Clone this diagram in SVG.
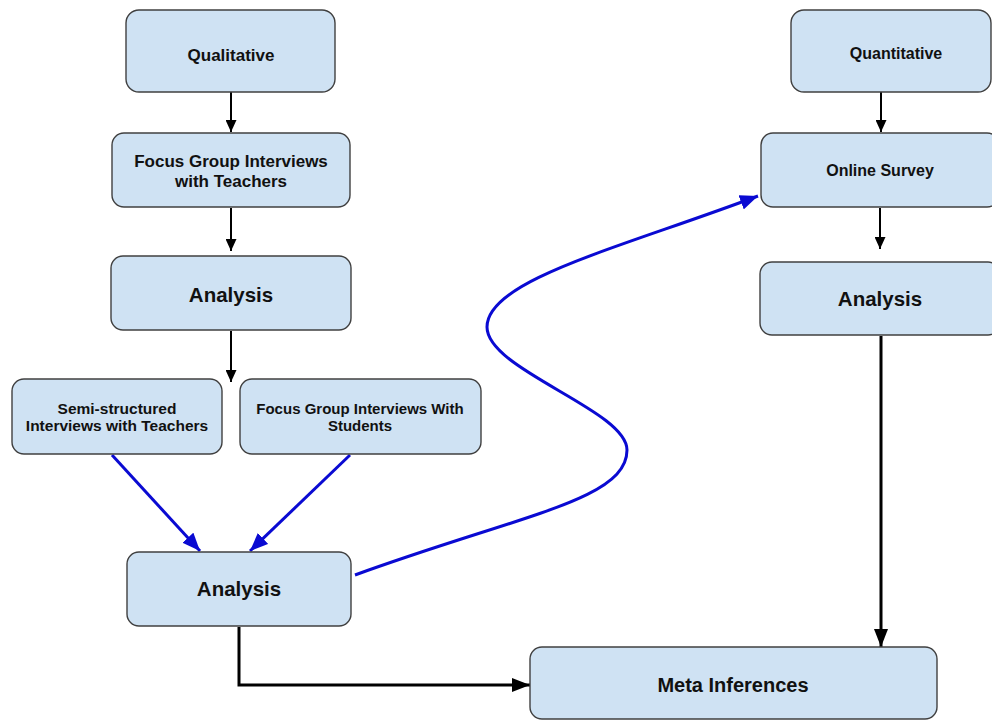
<svg xmlns="http://www.w3.org/2000/svg" width="992" height="721" viewBox="0 0 992 721">
  <style>
    .box { fill: #cfe2f3; stroke: #404040; stroke-width: 1.4; }
    .lbl { font-family: "Liberation Sans", Arial, sans-serif; font-weight: bold; fill: #111; text-anchor: middle; }
    .blk { fill: none; stroke: #000; stroke-width: 2; }
    .blk3 { fill: none; stroke: #000; stroke-width: 3; }
    .blu { fill: none; stroke: #0a0ad2; stroke-width: 3; }
  </style>
  <defs>
    <marker id="ahSmall" markerUnits="userSpaceOnUse" markerWidth="12" markerHeight="11" refX="12" refY="5.5" orient="auto">
      <path d="M0,0 L12,5.5 L0,11 z" fill="#000"/>
    </marker>
    <marker id="ahBig" markerUnits="userSpaceOnUse" markerWidth="18" markerHeight="14" refX="18" refY="7" orient="auto">
      <path d="M0,0 L18,7 L0,14 z" fill="#000"/>
    </marker>
    <marker id="ahBlue" markerUnits="userSpaceOnUse" markerWidth="18" markerHeight="15" refX="18" refY="7.5" orient="auto">
      <path d="M0,0 L18,7.5 L0,15 z" fill="#0a0ad2"/>
    </marker>
  </defs>
  <rect width="992" height="721" fill="#fff"/>

  <!-- connectors -->
  <g id="connectors">
    <line class="blk" x1="231" y1="92" x2="231" y2="132" marker-end="url(#ahSmall)"/>
    <line class="blk" x1="231" y1="208" x2="231" y2="251" marker-end="url(#ahSmall)"/>
    <line class="blk" x1="231" y1="331" x2="231" y2="382" marker-end="url(#ahSmall)"/>
    <line class="blk" x1="881" y1="92" x2="881" y2="132" marker-end="url(#ahSmall)"/>
    <line class="blk" x1="880" y1="208" x2="880" y2="249" marker-end="url(#ahSmall)"/>
    <line class="blk3" x1="881" y1="336" x2="881" y2="647" marker-end="url(#ahBig)"/>
    <polyline class="blk3" points="239,627 239,685 530,685" marker-end="url(#ahBig)"/>
    <line class="blu" x1="112" y1="455" x2="200" y2="551" marker-end="url(#ahBlue)"/>
    <line class="blu" x1="350" y1="455" x2="250" y2="551" marker-end="url(#ahBlue)"/>
    <path class="blu" d="M355,575 C520,515 627,500 627,450 C627,410 487,370 487,327 C487,280 620,248 758,196" marker-end="url(#ahBlue)"/>
  </g>

  <!-- qualitative strand -->
  <g id="qualitative">
    <rect class="box" x="126" y="10" width="209" height="82" rx="13"/>
    <text class="lbl" x="231" y="61" font-size="17">Qualitative</text>
  </g>
  <g id="fg-teachers">
    <rect class="box" x="112" y="133" width="238" height="74" rx="12"/>
    <text class="lbl" x="231" y="167" font-size="17">Focus Group Interviews</text>
    <text class="lbl" x="231" y="187" font-size="17">with Teachers</text>
  </g>
  <g id="analysis-1">
    <rect class="box" x="111" y="256" width="240" height="74" rx="12"/>
    <text class="lbl" x="231" y="302" font-size="20.5">Analysis</text>
  </g>
  <g id="semi-structured">
    <rect class="box" x="12" y="379" width="210" height="75" rx="12"/>
    <text class="lbl" x="117" y="414" font-size="15.5">Semi-structured</text>
    <text class="lbl" x="117" y="431" font-size="15.5">Interviews with Teachers</text>
  </g>
  <g id="fg-students">
    <rect class="box" x="240" y="379" width="241" height="75" rx="12"/>
    <text class="lbl" x="360" y="414" font-size="15">Focus Group Interviews With</text>
    <text class="lbl" x="360" y="431" font-size="15">Students</text>
  </g>
  <g id="analysis-2">
    <rect class="box" x="127" y="552" width="224" height="74" rx="12"/>
    <text class="lbl" x="239" y="596" font-size="20.5">Analysis</text>
  </g>

  <!-- quantitative strand -->
  <g id="quantitative">
    <rect class="box" x="791" y="10" width="200" height="82" rx="13"/>
    <text class="lbl" x="896" y="59" font-size="16">Quantitative</text>
  </g>
  <g id="online-survey">
    <rect class="box" x="761" y="133" width="238" height="74" rx="12"/>
    <text class="lbl" x="880" y="176" font-size="16">Online Survey</text>
  </g>
  <g id="analysis-3">
    <rect class="box" x="760" y="262" width="240" height="73" rx="12"/>
    <text class="lbl" x="880" y="306" font-size="20.5">Analysis</text>
  </g>

  <!-- merge -->
  <g id="meta-inferences">
    <rect class="box" x="530" y="647" width="407" height="72" rx="12"/>
    <text class="lbl" x="733" y="692" font-size="20">Meta Inferences</text>
  </g>
</svg>
